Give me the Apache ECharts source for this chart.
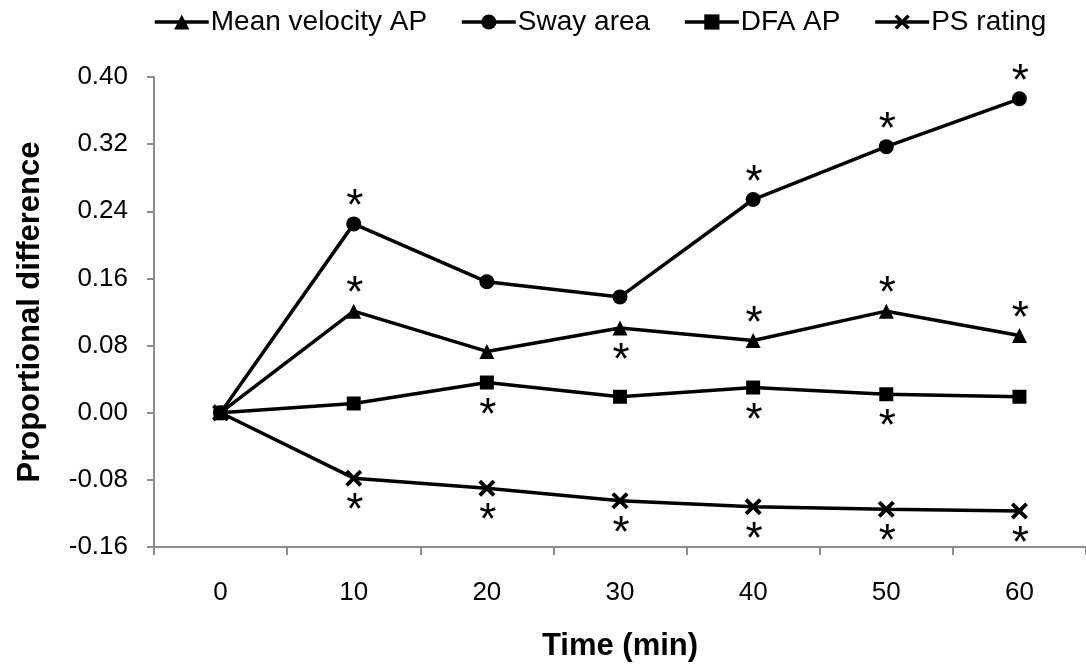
<!DOCTYPE html>
<html>
<head>
<meta charset="utf-8">
<script src="https://cdn.jsdelivr.net/npm/echarts@6/dist/echarts.min.js"></script>
<style>
    html, body { margin: 0; padding: 0; background: #fff; }
    #chart { width: 1086px; height: 667px; }
</style>
</head>
<body>
<div id="chart"></div>
<script>
const times = ["0", "10", "20", "30", "40", "50", "60"];

const meanVelocity = [0, 0.121, 0.073, 0.101, 0.086, 0.121, 0.092];
const swayArea = [0, 0.225, 0.156, 0.138, 0.254, 0.317, 0.374];
const dfaAP = [0, 0.011, 0.036, 0.019, 0.030, 0.022, 0.019];
const psRating = [0, -0.078, -0.090, -0.105, -0.112, -0.115, -0.117];

// where the significance star sits for each point (null = no star)
const meanVelocityStars = [null, "top", null, "bottom", "top", "top", "top"];
const swayAreaStars = [null, "top", null, null, "top", "top", "top"];
const dfaStars = [null, null, "bottom", null, "bottom", "bottom", null];
const psStars = [null, "bottom", "bottom", "bottom", "bottom", "bottom", "bottom"];

const yTicks = [-0.16, -0.08, 0, 0.08, 0.16, 0.24, 0.32, 0.40];

const FONT = "Liberation Sans, Arial, sans-serif";
const crossPath = "path://M0,1.6 L1.6,0 L5,3.4 L8.4,0 L10,1.6 L6.6,5 L10,8.4 L8.4,10 L5,6.6 L1.6,10 L0,8.4 L3.4,5 Z";

function withStars(values, stars) {
    return values.map((v, i) => {
        if (!stars[i]) return v;
        return {
            value: v,
            label: {
                show: true,
                formatter: "*",
                position: "inside",
                offset: [1, stars[i] === "top" ? -16 : 34],
                fontSize: 44,
                color: "#000",
                fontFamily: FONT
            }
        };
    });
}

function makeSeries(name, values, stars, symbol, size) {
    return {
        name: name,
        type: "line",
        data: withStars(values, stars),
        symbol: symbol,
        symbolSize: size,
        showAllSymbol: true,
        itemStyle: { color: "#000" },
        lineStyle: { color: "#000", width: 3.5 },
        emphasis: { disabled: true },
        z: 3
    };
}

const chart = echarts.init(document.getElementById("chart"));

chart.setOption({
    animation: false,
    backgroundColor: "#fff",
    textStyle: { fontFamily: FONT },
    legend: {
        top: 3,
        left: 148,
        itemWidth: 54,
        itemHeight: 19,
        itemGap: 33,
        lineStyle: { width: 3.5, color: "#000" },
        textStyle: { fontSize: 28, color: "#000", padding: [0, 0, 0, -3] },
        data: ["Mean velocity AP", "Sway area", "DFA AP", "PS rating"]
    },
    grid: {
        left: 154,
        top: 77,
        width: 941,
        height: 473,
        containLabel: false
    },
    xAxis: {
        type: "category",
        data: times,
        boundaryGap: true,
        name: "Time (min)",
        nameLocation: "middle",
        nameGap: 84,
        nameTextStyle: { fontSize: 31, fontWeight: "bold", color: "#000" },
        axisLine: { onZero: false, lineStyle: { color: "#8c8c8c", width: 2 } },
        axisTick: { show: true, length: 8, lineStyle: { color: "#8c8c8c", width: 2 } },
        axisLabel: { fontSize: 26, color: "#000", margin: 33 },
        splitLine: { show: false }
    },
    yAxis: {
        type: "value",
        min: yTicks[0],
        max: yTicks[yTicks.length - 1],
        interval: 0.08,
        name: "Proportional difference",
        nameLocation: "middle",
        nameGap: 108,
        nameTextStyle: { fontSize: 31, fontWeight: "bold", color: "#000" },
        axisLine: { show: true, lineStyle: { color: "#8c8c8c", width: 2 } },
        axisTick: { show: true, inside: false, length: 7, lineStyle: { color: "#8c8c8c", width: 2 } },
        axisLabel: {
            fontSize: 26,
            color: "#000",
            margin: 26,
            formatter: v => v.toFixed(2)
        },
        splitLine: { show: false }
    },
    series: [
        makeSeries("Mean velocity AP", meanVelocity, meanVelocityStars, "triangle", 15),
        makeSeries("Sway area", swayArea, swayAreaStars, "circle", 15),
        makeSeries("DFA AP", dfaAP, dfaStars, "rect", 14),
        makeSeries("PS rating", psRating, psStars, crossPath, 17)
    ]
});
</script>
</body>
</html>
